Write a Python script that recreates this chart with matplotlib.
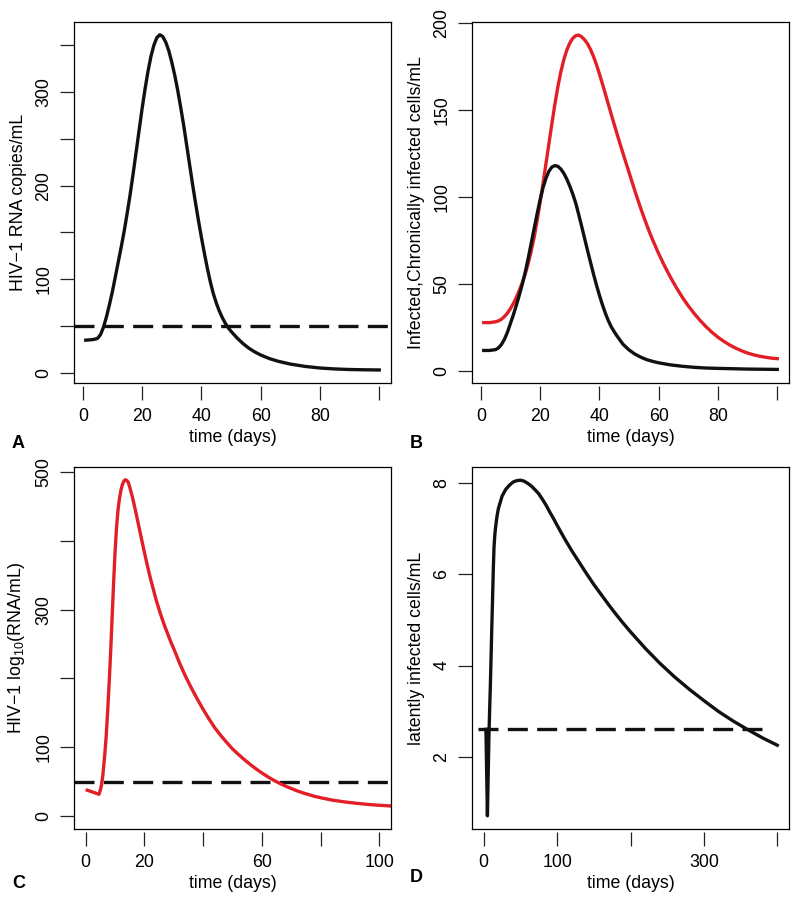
import numpy as np
import matplotlib.pyplot as plt

plt.rcParams['font.family'] = ['Liberation Sans', 'DejaVu Sans']
plt.rcParams['mathtext.fontset'] = 'custom'
plt.rcParams['mathtext.rm'] = 'Liberation Sans'
plt.rcParams['mathtext.it'] = 'Liberation Sans:italic'
plt.rcParams['font.size'] = 12.8

RED = '#e21f26'
BLACK = '#111111'

# panel A: HIV-1 RNA copies/mL
a_days = [1, 3, 4, 5, 6, 7, 8, 9, 10, 11, 12, 13, 14, 15, 16, 17, 18, 19, 20,
          21, 22, 23, 24, 25, 26, 27, 28, 29, 30, 31, 32, 33, 34, 35, 36, 37, 38, 39, 40,
          41, 42, 43, 44, 45, 46, 47, 48, 49, 50, 52, 54, 56, 58, 60, 63, 66, 70, 75, 80,
          85, 90, 95, 100]
a_rna = [35, 35.5, 36, 37, 41, 49, 60, 73, 87, 103, 119, 135, 152, 171, 191, 213, 236, 259, 282,
         303, 322, 338, 350, 358, 361, 359, 353, 344, 332, 318, 302, 284, 265, 244, 223, 202, 182, 163, 145,
         128, 112, 97.5, 85, 75, 66.5, 59.5, 53.5, 48.5, 44.5, 37.5, 31.5, 26.5, 22.5, 19.2, 15.3, 12.4, 9.5, 7, 5.3,
         4.3, 3.7, 3.4, 3.2]
a_limit = 50

# panel B: infected (black) and chronically infected (red) cells/mL
b_days = [1, 3, 5, 6, 7, 8, 9, 10, 11, 12, 13, 14, 15, 16, 17, 18, 19, 20, 21, 22,
          23, 24, 25, 26, 27, 28, 29, 30, 31, 32, 33, 34, 35, 36, 37, 38, 39, 40, 41, 42,
          43, 44, 45, 46, 48, 50, 52, 54, 56, 58, 60, 64, 68, 72, 76, 80, 85, 90, 95, 100]
b_infected = [12, 12, 12.5, 13.5, 15.5, 18.5, 22.5, 27.5, 32.5, 38, 43.8, 50, 57, 65, 73.5, 82, 90.5, 98.5, 105.5, 111,
              115, 117.4, 118.2, 117.8, 116.2, 113.8, 110.5, 106.5, 102, 96.8, 90.3, 83.5, 76.5, 69.5, 62.7, 56, 49.7, 43.8, 38.4, 33.5,
              29.2, 25.6, 22.8, 20.2, 15.5, 12.3, 9.9, 8.1, 6.7, 5.7, 4.9, 3.7, 2.9, 2.3, 1.9, 1.7, 1.5, 1.3, 1.2, 1.1]
b_days_chronic = [1, 3, 5, 6, 7, 8, 9, 10, 11, 12, 13, 14, 15, 16, 17, 18, 19, 20, 21, 22,
                  23, 24, 25, 26, 27, 28, 29, 30, 31, 32, 33, 34, 35, 36, 37, 38, 39, 40, 41, 42,
                  43, 44, 45, 46, 47, 48, 49, 50, 51, 52, 53, 54, 55, 56, 57, 58, 60, 62, 64, 66,
                  68, 70, 72, 74, 76, 78, 80, 82, 84, 86, 88, 90, 92, 94, 96, 98, 100]
b_chronic = [28, 28, 28.5, 29, 30, 31.5, 33.5, 36, 39, 42.5, 46.5, 51, 56, 62, 69, 77, 86.5, 97, 108, 119.5,
             131, 142.5, 153.5, 163.5, 172, 179, 184.5, 188.5, 191.3, 192.8, 193.2, 192.2, 190.5, 188.2, 185, 181, 176.3, 171, 165.3, 159.5,
             153.6, 147.7, 141.9, 136.2, 130.6, 125.1, 119.7, 114.3, 108.9, 103.6, 98.4, 93.4, 88.6, 84, 79.6, 75.4, 67.6, 60.5, 54, 48,
             42.5, 37.6, 33.2, 29.2, 25.6, 22.4, 19.6, 17.2, 15.1, 13.3, 11.8, 10.5, 9.5, 8.7, 8.1, 7.6, 7.3]

# panel C: HIV-1 log10(RNA/mL)
c_days = [0.5, 2.5, 4.5, 5, 5.4, 5.8, 6.5, 7, 7.5, 8, 8.5, 9, 9.5, 10, 10.5, 11, 11.5, 12, 12.5, 13,
          13.5, 14, 14.5, 15, 16, 17, 18, 19, 20, 21, 22, 23, 24, 25, 26, 27, 28, 29, 30, 32,
          34, 36, 38, 40, 42, 44, 46, 48, 50, 52, 54, 56, 58, 60, 62, 64, 66, 68, 70, 72,
          74, 76, 78, 80, 84, 88, 92, 96, 100, 104]
c_rna = [37.5, 34.5, 31.5, 38, 46, 58, 90, 118, 155, 195, 240, 290, 340, 385, 420, 445, 462, 474, 482, 487,
         489, 488, 485, 478, 462, 443, 423, 403, 383, 364, 346, 330, 314, 300, 287, 275, 264, 253, 243, 222,
         203, 186, 170, 155, 141, 128, 117, 107, 97.5, 89.5, 82, 75, 68.5, 62.5, 57, 52, 47.5, 43.5, 40, 36.5,
         33.5, 31, 28.5, 26.5, 23, 20.5, 18.5, 16.8, 15.5, 14.5]
c_limit = 50

# panel D: latently infected cells/mL
d_days = [3, 5, 7, 8, 9, 10, 11, 12, 13, 14, 15, 16, 18, 20, 25, 30, 35, 40, 45, 50,
          55, 60, 65, 70, 75, 80, 85, 90, 95, 100, 110, 120, 130, 140, 150, 160, 170, 180, 190, 200,
          220, 240, 260, 280, 300, 320, 340, 360, 380, 400]
d_latent = [2.6, 0.7, 2.4, 3.0, 3.55, 4.2, 4.85, 5.45, 6.1, 6.6, 6.85, 7.02, 7.27, 7.45, 7.72, 7.87, 7.96, 8.03, 8.06, 8.07,
            8.05, 8.0, 7.94, 7.86, 7.77, 7.65, 7.52, 7.37, 7.23, 7.08, 6.79, 6.52, 6.27, 6.02, 5.78, 5.56, 5.34, 5.13, 4.93, 4.74,
            4.38, 4.05, 3.75, 3.48, 3.23, 2.99, 2.78, 2.59, 2.41, 2.25]
d_limit = 2.6
d_limit_span = [-8, 383]

LW = 2.4
DASH = (0, (6, 2.8))


def style(ax, xlim, ylim, xticks, xlabels, yticks, ylabels, ylabel):
    ax.set_xlim(xlim)
    ax.set_ylim(ylim)
    ax.set_xticks(xticks)
    ax.set_xticklabels(xlabels)
    ax.set_yticks(yticks)
    ax.set_yticklabels(ylabels, rotation=90, va='center')
    ax.tick_params(length=10, width=0.9, pad=5.5, color='#222222')
    for s in ax.spines.values():
        s.set_linewidth(0.9)
    # R style: x ticks a little detached from the box
    ax.spines['bottom'].set_position(('outward', 2.5))
    ax.spines['bottom'].set_visible(False)
    ax.plot([0, 1], [0, 0], transform=ax.transAxes, color='black', lw=0.9, clip_on=False)
    ax.set_xlabel('time (days)', labelpad=3)
    ax.set_ylabel(ylabel, labelpad=6)


fig = plt.figure(figsize=(8, 9), dpi=100)

axA = fig.add_axes([74/800, 1-383/900, 317/800, 361/900])
axA.axhline(a_limit, color=BLACK, lw=LW, ls=DASH)
axA.plot(a_days, a_rna, color=BLACK, lw=LW)
style(axA, (-2.96, 103.96), (-10.7, 374.6), range(0, 101, 20), ['0', '20', '40', '60', '80', ''],
      range(0, 351, 50), ['0', '', '100', '', '200', '', '300', ''], 'HIV\u22121 RNA copies/mL')

axB = fig.add_axes([472/800, 1-383/900, 317/800, 361/900])
axB.plot(b_days_chronic, b_chronic, color=RED, lw=LW)
axB.plot(b_days, b_infected, color=BLACK, lw=LW)
style(axB, (-2.96, 103.96), (-6.7, 200.7), range(0, 101, 20), ['0', '20', '40', '60', '80', ''],
      range(0, 201, 50), ['0', '50', '100', '150', '200'], 'Infected,Chronically infected cells/mL')

axC = fig.add_axes([74/800, 1-829/900, 317/800, 362/900])
axC.axhline(c_limit, color=BLACK, lw=LW, ls=DASH)
axC.plot(c_days, c_rna, color=RED, lw=LW)
style(axC, (-4, 104), (-19, 507.5), range(0, 101, 20), ['0', '20', '', '60', '', '100'],
      range(0, 501, 100), ['0', '100', '', '300', '', '500'], 'HIV\u22121 log$_{10}$(RNA/mL)')

axD = fig.add_axes([472/800, 1-829/900, 317/800, 362/900])
axD.plot(d_limit_span, [d_limit, d_limit], color=BLACK, lw=LW, ls=DASH)
axD.plot(d_days, d_latent, color=BLACK, lw=LW)
style(axD, (-16, 416), (0.41, 8.36), range(0, 401, 100), ['0', '100', '', '300', ''],
      [2, 4, 6, 8], ['2', '4', '6', '8'], 'latently infected cells/mL')

for letter, x, y in [('A', 12, 443), ('B', 410, 443), ('C', 12, 883), ('D', 410, 878)]:
    fig.text(x/800, 1-y/900, letter, fontsize=13, fontweight='bold', va='center', ha='left')

fig.savefig('out.png', dpi=100)
